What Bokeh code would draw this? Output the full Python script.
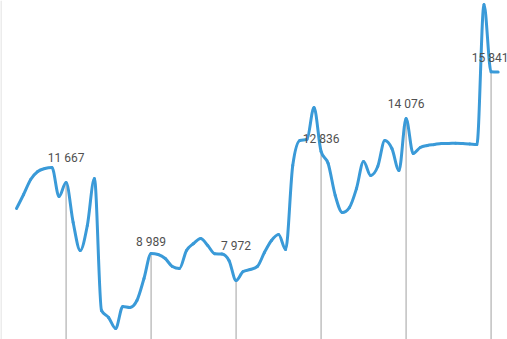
from bokeh.plotting import figure
from bokeh.models import Range1d, ColumnDataSource
from bokeh.core.properties import value
from bokeh.embed import file_html
from bokeh.resources import INLINE

# monthly index and values
months = list(range(69))
values = [10687, 11215, 11780, 12082, 12195, 12233, 11139, 11667, 10159, 9103,
          10045, 11818, 6840, 6576, 6161, 6990, 6953, 7217, 8047, 8989,
          8950, 8801, 8499, 8424, 9103, 9367, 9555, 9291, 8980, 8970,
          8726, 7972, 8311, 8386, 8499, 9027, 9480, 9706, 9140, 12308,
          13251, 13289, 14495, 12836, 12383, 11177, 10536, 10724, 11441, 12459,
          11931, 12270, 13251, 12949, 12120, 14076, 12761, 12987, 13062, 13100,
          13138, 13138, 13150, 13138, 13120, 13100, 18379, 15841, 15830]

# annotated points (month index) and their labels
marked_months = [7, 19, 31, 43, 55, 67]
marked_labels = ["11 667", "8 989", "7 972", "12 836", "14 076", "15 841"]
label_offsets = [-24.5, -11.5, -34, -13, -15, -14.3]  # px, layout only
label_xoffsets = [0, 0, 0, 0, 0, -1]                   # px, layout only

X_START, X_END = -2.259, 69.32
Y_BOTTOM, Y_TOP = 5747, 18530

p = figure(width=507, height=339, output_backend="svg", toolbar_location=None,
           x_range=Range1d(X_START, X_END), y_range=Range1d(Y_BOTTOM, Y_TOP),
           min_border=0, min_border_left=0, min_border_right=0,
           min_border_top=0, min_border_bottom=0)
p.xaxis.visible = False
p.yaxis.visible = False
p.grid.visible = False
p.outline_line_color = None
p.background_fill_color = "white"
p.border_fill_color = "white"

# faint left edge line
p.segment(x0=[X_START], y0=[Y_BOTTOM], x1=[X_START], y1=[Y_TOP],
          line_color="#ececec", line_width=3)

# vertical drop lines
mv = [values[m] for m in marked_months]
p.segment(x0=marked_months, y0=mv, x1=marked_months, y1=[Y_BOTTOM] * len(mv),
          line_color="#a0a0a0", line_width=1)

# monotone cubic (d3 monotoneX style) tangents -> Bezier segments
n = len(months)
def sign(a):
    return (a > 0) - (a < 0)

slopes = [(values[i + 1] - values[i]) / (months[i + 1] - months[i]) for i in range(n - 1)]
tang = [0.0] * n
for i in range(1, n - 1):
    h0 = months[i] - months[i - 1]
    h1 = months[i + 1] - months[i]
    s0, s1 = slopes[i - 1], slopes[i]
    pp = (s0 * h1 + s1 * h0) / (h0 + h1)
    tang[i] = (sign(s0) + sign(s1)) * min(abs(s0), abs(s1), 0.5 * abs(pp))
tang[0] = (3 * slopes[0] - tang[1]) / 2
tang[-1] = (3 * slopes[-1] - tang[-2]) / 2

x0, y0, x1, y1, cx0, cy0, cx1, cy1 = [], [], [], [], [], [], [], []
for i in range(n - 1):
    dx = (months[i + 1] - months[i]) / 3
    x0.append(months[i]); y0.append(values[i])
    x1.append(months[i + 1]); y1.append(values[i + 1])
    cx0.append(months[i] + dx); cy0.append(values[i] + dx * tang[i])
    cx1.append(months[i + 1] - dx); cy1.append(values[i + 1] - dx * tang[i + 1])
src = ColumnDataSource(dict(x0=x0, y0=y0, x1=x1, y1=y1, cx0=cx0, cy0=cy0, cx1=cx1, cy1=cy1))
p.bezier(x0="x0", y0="y0", x1="x1", y1="y1", cx0="cx0", cy0="cy0", cx1="cx1", cy1="cy1",
         source=src, line_color="#3a9ad8", line_width=3, line_cap="round")

# labels
lsrc = ColumnDataSource(dict(x=marked_months, y=mv, t=marked_labels,
                             off=label_offsets, xoff=label_xoffsets))
p.text(x="x", y="y", text="t", y_offset="off", x_offset="xoff", source=lsrc,
       text_font=value("Roboto"), text_font_size="12px", text_color="#505050",
       text_align="center", text_baseline="middle")

open("out.html", "w").write(file_html(p, INLINE))
